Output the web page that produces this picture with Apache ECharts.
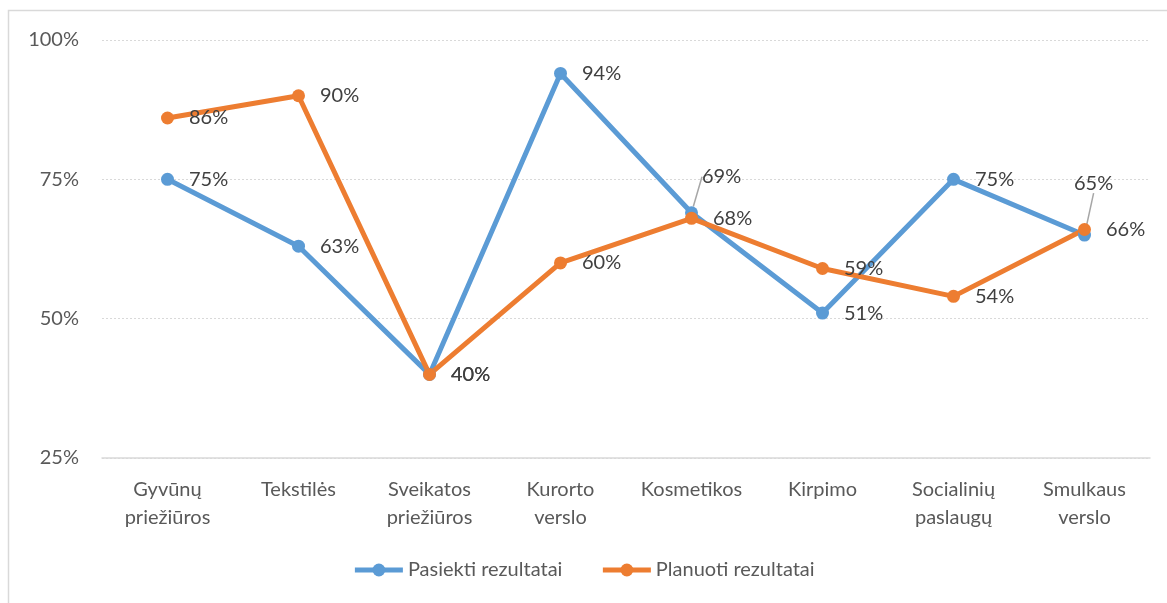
<!DOCTYPE html>
<html>
<head>
<meta charset="utf-8">
<script src="https://cdn.jsdelivr.net/npm/echarts@6/dist/echarts.min.js"></script>
<style>
	html, body { margin: 0; padding: 0; background: #fff; }
	#lineChart { width: 1167px; height: 603px; }
</style>
</head>
<body>
<div id="lineChart"></div>
<script>
// kategorijos
const categories = [
	'Gyvūnų\npriežiūros',
	'Tekstilės',
	'Sveikatos\npriežiūros',
	'Kurorto\nverslo',
	'Kosmetikos',
	'Kirpimo',
	'Socialinių\npaslaugų',
	'Smulkaus\nverslo',
];
const pasiekti = [75, 63, 40, 94, 69, 51, 75, 65];
const planuoti = [86, 90, 40, 60, 68, 59, 54, 66];
const yTicks = [25, 50, 75, 100];

const fontName = 'Lato, "Open Sans", sans-serif';

// labels that were moved by hand in the original, with a leader line
const movedLabels = {
	pasiekti: { 4: { dx: -11, dy: -36 }, 7: { dx: -32, dy: -52 } },
};

const makeData = (values, moved) =>
	values.map((v, i) => {
		if (moved && moved[i]) {
			return { value: v, labelLine: { show: true } };
		}
		return v;
	});

const makeSeries = (name, values, color, moved) => ({
	name: name,
	type: 'line',
	data: makeData(values, moved),
	symbol: 'circle',
	symbolSize: 13,
	lineStyle: { width: 5, color: color },
	itemStyle: { color: color },
	label: {
		show: true,
		position: 'right',
		distance: 15,
		formatter: '{c}%',
		color: '#404040',
		fontSize: 20,
		fontFamily: fontName,
	},
	labelLine: {
		show: false,
		lineStyle: { color: '#a6a6a6', width: 1.5 },
	},
	labelLayout: (params) => {
		if (moved && moved[params.dataIndex]) {
			return moved[params.dataIndex];
		}
		return {};
	},
});

const myEcharts = echarts.init(document.getElementById('lineChart'));
const option = {
	animation: false,
	backgroundColor: '#fff',
	graphic: [
		{
			type: 'rect',
			shape: { x: 8.5, y: 10.5, width: 1170, height: 600 },
			style: { fill: 'none', stroke: '#d9d9d9', lineWidth: 1.5 },
			silent: true,
		},
	],
	grid: { left: 102, right: 17, top: 40, bottom: 145 },
	legend: {
		bottom: 18,
		left: 'center',
		itemWidth: 48,
		itemHeight: 16,
		itemGap: 38,
		lineStyle: { width: 5 },
		textStyle: { color: '#595959', fontSize: 20, fontFamily: fontName },
		data: ['Pasiekti rezultatai', 'Planuoti rezultatai'],
	},
	xAxis: {
		type: 'category',
		data: categories,
		boundaryGap: true,
		axisLine: { lineStyle: { color: '#d9d9d9', width: 1.5 } },
		axisTick: { show: false },
		axisLabel: {
			color: '#595959',
			fontSize: 20,
			lineHeight: 28,
			margin: 18,
			interval: 0,
			fontFamily: fontName,
		},
	},
	yAxis: {
		type: 'value',
		min: yTicks[0],
		max: yTicks[yTicks.length - 1],
		interval: 25,
		axisLine: { show: false },
		axisTick: { show: false },
		axisLabel: {
			formatter: '{value}%',
			color: '#595959',
			fontSize: 20,
			margin: 23,
			fontFamily: fontName,
		},
		splitLine: {
			show: true,
			lineStyle: { color: '#d9d9d9', type: [2, 2], width: 1 },
		},
	},
	series: [
		makeSeries('Pasiekti rezultatai', pasiekti, '#5b9bd5', movedLabels.pasiekti),
		makeSeries('Planuoti rezultatai', planuoti, '#ed7d31', null),
	],
};
myEcharts.setOption(option);
</script>
</body>
</html>
